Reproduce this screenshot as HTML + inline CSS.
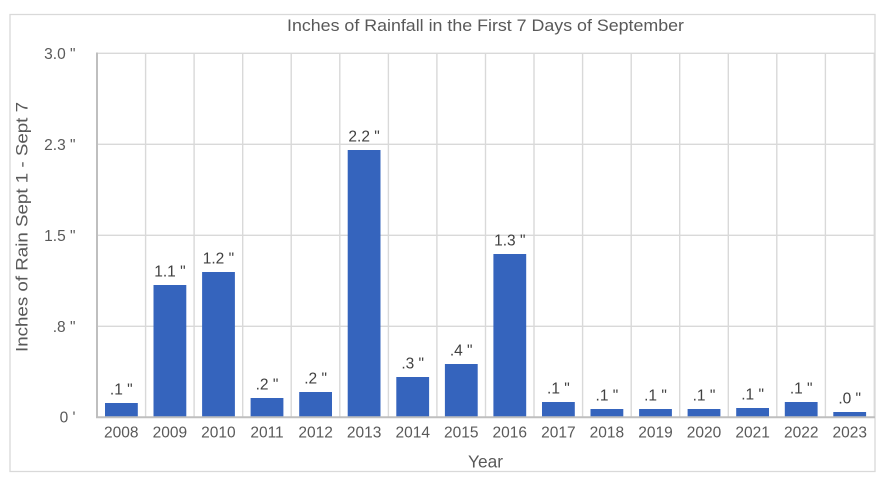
<!DOCTYPE html>
<html>
<head>
<meta charset="utf-8">
<style>
  html, body { margin: 0; padding: 0; background: #ffffff; }
  body { width: 891px; height: 482px; overflow: hidden; }
  svg { display: block; font-family: "Liberation Sans", Arial, sans-serif; }
</style>
</head>
<body>
<svg width="891" height="482" viewBox="0 0 891 482" xmlns="http://www.w3.org/2000/svg">
  <rect x="0" y="0" width="891" height="482" fill="#ffffff"/>
  <!-- outer chart border -->
  <rect x="10" y="14.5" width="865" height="457" fill="none" stroke="#d9d9d9" stroke-width="1.3"/>

  <!-- title -->
  <text x="485.5" y="31" font-size="17" fill="#595959" text-anchor="middle" textLength="397" lengthAdjust="spacingAndGlyphs">Inches of Rainfall in the First 7 Days of September</text>

  <!-- horizontal gridlines -->
  <g stroke="#d9d9d9" stroke-width="1.4">
    <line x1="97" y1="53.3" x2="874.5" y2="53.3"/>
    <line x1="97" y1="144.3" x2="874.5" y2="144.3"/>
    <line x1="97" y1="235.3" x2="874.5" y2="235.3"/>
    <line x1="97" y1="326.3" x2="874.5" y2="326.3"/>
  </g>
  <!-- vertical gridlines -->
  <g stroke="#d9d9d9" stroke-width="1.4">
    <line x1="145.6" y1="53" x2="145.6" y2="417"/>
    <line x1="194.1" y1="53" x2="194.1" y2="417"/>
    <line x1="242.7" y1="53" x2="242.7" y2="417"/>
    <line x1="291.2" y1="53" x2="291.2" y2="417"/>
    <line x1="339.8" y1="53" x2="339.8" y2="417"/>
    <line x1="388.4" y1="53" x2="388.4" y2="417"/>
    <line x1="436.9" y1="53" x2="436.9" y2="417"/>
    <line x1="485.5" y1="53" x2="485.5" y2="417"/>
    <line x1="534.0" y1="53" x2="534.0" y2="417"/>
    <line x1="582.6" y1="53" x2="582.6" y2="417"/>
    <line x1="631.2" y1="53" x2="631.2" y2="417"/>
    <line x1="679.7" y1="53" x2="679.7" y2="417"/>
    <line x1="728.3" y1="53" x2="728.3" y2="417"/>
    <line x1="776.8" y1="53" x2="776.8" y2="417"/>
    <line x1="825.4" y1="53" x2="825.4" y2="417"/>
    <line x1="874.3" y1="53" x2="874.3" y2="417"/>
  </g>

  <!-- bars -->
  <g fill="#3564bd">
    <rect x="105.0" y="403" width="32.8" height="14"/>
    <rect x="153.5" y="285" width="32.8" height="132"/>
    <rect x="202.1" y="272" width="32.8" height="145"/>
    <rect x="250.6" y="398" width="32.8" height="19"/>
    <rect x="299.2" y="392" width="32.8" height="25"/>
    <rect x="347.7" y="150" width="32.8" height="267"/>
    <rect x="396.3" y="377" width="32.8" height="40"/>
    <rect x="444.9" y="364" width="32.8" height="53"/>
    <rect x="493.4" y="254" width="32.8" height="163"/>
    <rect x="542.0" y="402" width="32.8" height="15"/>
    <rect x="590.5" y="409" width="32.8" height="8"/>
    <rect x="639.1" y="409" width="32.8" height="8"/>
    <rect x="687.6" y="409" width="32.8" height="8"/>
    <rect x="736.2" y="408" width="32.8" height="9"/>
    <rect x="784.8" y="402" width="32.8" height="15"/>
    <rect x="833.3" y="412" width="32.8" height="5"/>
  </g>

  <!-- axes lines -->
  <line x1="97" y1="52.5" x2="97" y2="418" stroke="#bfbfbf" stroke-width="2"/>
  <line x1="96" y1="417.2" x2="875" y2="417.2" stroke="#bfbfbf" stroke-width="2"/>

  <!-- data labels -->
  <g font-size="15.5" fill="#404040" text-anchor="middle">
    <text x="121.3" y="394.5">.1 "</text>
    <text x="169.9" y="276.5">1.1 "</text>
    <text x="218.4" y="263.5">1.2 "</text>
    <text x="267.0" y="389.5">.2 "</text>
    <text x="315.6" y="383.5">.2 "</text>
    <text x="364.1" y="141.5">2.2 "</text>
    <text x="412.7" y="368.5">.3 "</text>
    <text x="461.2" y="355.5">.4 "</text>
    <text x="509.8" y="245.5">1.3 "</text>
    <text x="558.4" y="393.5">.1 "</text>
    <text x="606.9" y="400.5">.1 "</text>
    <text x="655.5" y="400.5">.1 "</text>
    <text x="704.0" y="400.5">.1 "</text>
    <text x="752.6" y="399.5">.1 "</text>
    <text x="801.2" y="393.5">.1 "</text>
    <text x="849.7" y="403.5">.0 "</text>
  </g>

  <!-- y tick labels -->
  <g font-size="15.5" fill="#595959" text-anchor="end">
    <text x="75.5" y="59">3.0 "</text>
    <text x="75.5" y="150">2.3 "</text>
    <text x="75.5" y="241">1.5 "</text>
    <text x="75.5" y="332">.8 "</text>
    <text x="75.5" y="422.5">0 '</text>
  </g>

  <!-- x tick labels -->
  <g font-size="15.5" fill="#595959" text-anchor="middle">
    <text x="121.3" y="437.5">2008</text>
    <text x="169.9" y="437.5">2009</text>
    <text x="218.4" y="437.5">2010</text>
    <text x="267.0" y="437.5">2011</text>
    <text x="315.6" y="437.5">2012</text>
    <text x="364.1" y="437.5">2013</text>
    <text x="412.7" y="437.5">2014</text>
    <text x="461.2" y="437.5">2015</text>
    <text x="509.8" y="437.5">2016</text>
    <text x="558.4" y="437.5">2017</text>
    <text x="606.9" y="437.5">2018</text>
    <text x="655.5" y="437.5">2019</text>
    <text x="704.0" y="437.5">2020</text>
    <text x="752.6" y="437.5">2021</text>
    <text x="801.2" y="437.5">2022</text>
    <text x="849.7" y="437.5">2023</text>
  </g>

  <!-- axis titles -->
  <text x="485.5" y="467.5" font-size="17.5" fill="#595959" text-anchor="middle" textLength="35" lengthAdjust="spacingAndGlyphs">Year</text>
  <text transform="translate(27.5,227) rotate(-90)" x="0" y="0" font-size="17" fill="#595959" text-anchor="middle" textLength="250" lengthAdjust="spacingAndGlyphs">Inches of Rain Sept 1 - Sept 7</text>
</svg>
</body>
</html>
